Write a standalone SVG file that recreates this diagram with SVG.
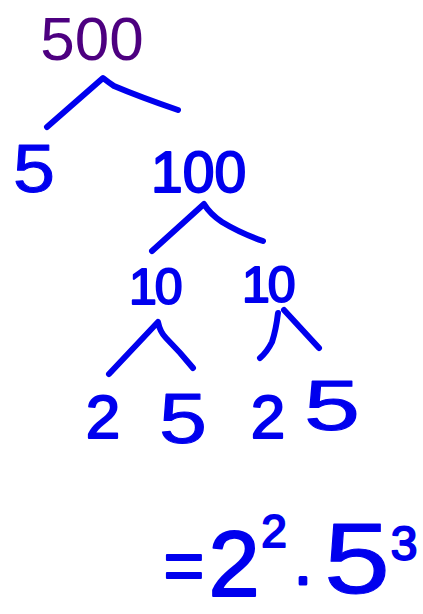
<svg xmlns="http://www.w3.org/2000/svg" width="423" height="614" viewBox="0 0 423 614">
<style>
.hw{font-family:"Liberation Sans",Arial,sans-serif;fill:#0000ee;stroke:#0000ee;stroke-width:2;stroke-linejoin:round;text-anchor:middle}
.st{text-anchor:start}
.thin{stroke-width:1}
.br{fill:none;stroke:#0000ee;stroke-width:6;stroke-linecap:round;stroke-linejoin:round}
</style>
<rect width="423" height="614" fill="#ffffff"/>
<g id="n500"><text x="92" y="60" font-family="Liberation Sans,Arial,sans-serif" font-size="62" fill="#4d0080" text-anchor="middle">500</text></g>
<g id="n5a"><text class="hw thin" x="34" y="192" font-size="68" textLength="42" lengthAdjust="spacingAndGlyphs">5</text></g>
<g id="n100"><text class="hw st" x="151" y="192" font-size="57">100</text></g>
<g id="n10a"><text class="hw st" x="129" y="304" font-size="50" letter-spacing="-2">10</text></g>
<g id="n10b"><text class="hw st" x="242" y="302" font-size="50" letter-spacing="-2">10</text></g>
<g id="n2a"><text class="hw" x="103" y="438" font-size="62">2</text></g>
<g id="n5b"><text class="hw thin" x="183" y="443" font-size="70" textLength="48" lengthAdjust="spacingAndGlyphs">5</text></g>
<g id="n2b"><text class="hw" x="268" y="438" font-size="62">2</text></g>
<g id="n5c"><text class="hw thin" x="332" y="430" font-size="70" textLength="56" lengthAdjust="spacingAndGlyphs">5</text></g>
<g id="result">
<text class="hw" x="184" y="590" font-size="70">=</text>
<text class="hw" x="234" y="596" font-size="92">2</text>
<text class="hw" x="274" y="547" font-size="46">2</text>
<text class="hw" x="303" y="597" font-size="60" style="stroke-width:3">·</text>
<text class="hw thin" x="357" y="593" font-size="100" textLength="66" lengthAdjust="spacingAndGlyphs">5</text>
<text class="hw" x="404" y="560" font-size="48">3</text>
</g>
<g id="connectors">
<path class="br" d="M47,127 L103,78 Q108,82 114,86 Q140,97 178,110"/>
<path class="br" d="M152,251 L204,204 Q210,214 222,222 Q240,233 263,241"/>
<path class="br" d="M109,374 L158,322 Q160,332 166,338 Q180,352 193,368"/>
<path class="br" d="M278,313 Q276,330 272,342 Q267,352 260,358"/>
<path class="br" d="M284,310 L319,348"/>
</g>
</svg>
